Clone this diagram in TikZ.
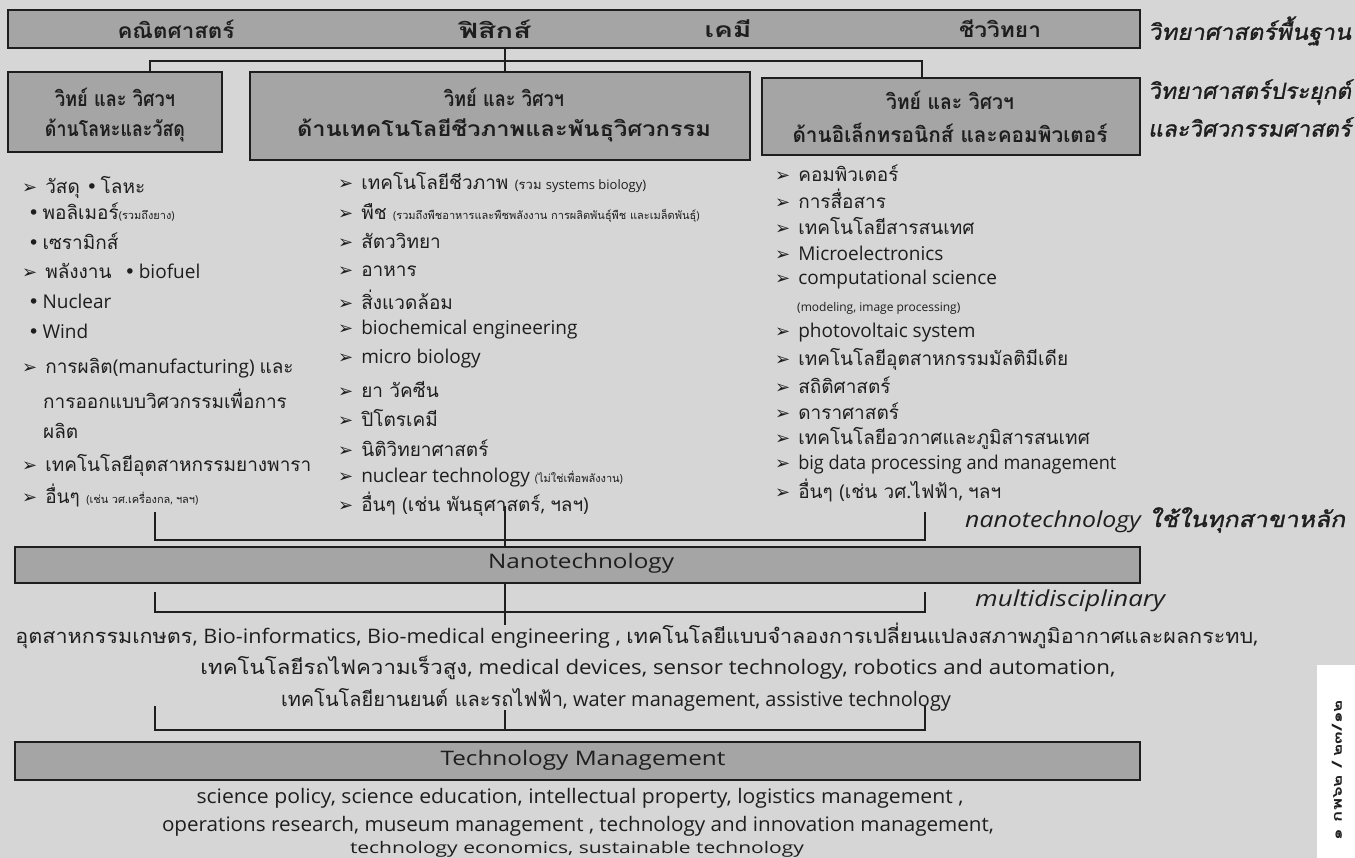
\documentclass[tikz,border=0pt]{standalone}
\usepackage{fontspec}
\usepackage{graphicx}
\setmainfont{Loma}[Script=Thai]
\newfontfamily\thfont{Loma}[Script=Thai]
\newfontfamily\lafont{Open Sans}
\newfontfamily\dv{DejaVu Sans}
\newfontfamily\slfont{Loma}[Script=Thai,FakeSlant=0.18,FakeBold=1.2]
\XeTeXinterchartokenstate=1
\newXeTeXintercharclass\ThaiCls
\newXeTeXintercharclass\SymCls
\newcount\chcnt
\chcnt="0E00
\loop \XeTeXcharclass\chcnt=\ThaiCls \ifnum\chcnt<"0E7F \advance\chcnt by 1 \repeat
\XeTeXcharclass"27A2=\SymCls
\XeTeXcharclass"2022=\SymCls
\XeTeXinterchartoks 0 \ThaiCls = {\thfont}
\XeTeXinterchartoks 4095 \ThaiCls = {\thfont}
\XeTeXinterchartoks \SymCls \ThaiCls = {\thfont}
\XeTeXinterchartoks \ThaiCls 0 = {\lafont}
\XeTeXinterchartoks 4095 0 = {\lafont}
\XeTeXinterchartoks \SymCls 0 = {\lafont}
\newlength\fitlen
\newcommand\fitw[2]{\settowidth\fitlen{#2}\pgfmathsetmacro\myratio{#1/\fitlen}\scalebox{\myratio}[1]{#2}}
\newcommand\arr{{\dv\fontsize{18}{18}\selectfont ➢}\hspace{8pt}}
\newcommand\bul{{\dv •}\,}
\newcommand\sm[1]{{\fontsize{11}{12}\selectfont #1}}
\newcommand\smm[1]{{\fontsize{13}{14}\selectfont #1}}
\definecolor{bgc}{RGB}{214,214,214}
\definecolor{boxc}{RGB}{165,165,165}
\definecolor{ink}{RGB}{30,30,30}
\tikzset{
 gbox/.style={draw=ink, line width=2pt, fill=boxc, inner sep=0pt},
 conn/.style={draw=ink, line width=2.2pt},
 item/.style={anchor=west, inner sep=0pt, text=ink, font=\fontsize{19}{21}\selectfont},
 ttl/.style={inner sep=0pt, text=ink, font=\bfseries\fontsize{21}{23}\selectfont},
 line/.style={inner sep=0pt, text=ink, font=\fontsize{20}{22}\selectfont},
 side/.style={anchor=west, inner sep=0pt, text=ink, font={\XeTeXinterchartokenstate=0 \slfont\fontsize{22}{24}\selectfont}},
}
\begin{document}
\begin{tikzpicture}[x=1pt,y=-1pt]
\useasboundingbox (0,0) rectangle (1355,858);
\clip (0,0) rectangle (1355,858);
\fill[bgc] (0,0) rectangle (1355,858);
\fill[white] (1317,665) rectangle (1355,858);
% top bar
\node[gbox, minimum width=1132pt, minimum height=38pt] (top) at (574,29) {};
\node[ttl] (t1) at (176,29) {\fitw{117}{คณิตศาสตร์}};
\node[ttl] (t2) at (495,29) {\fitw{72}{ฟิสิกส์}};
\node[ttl] (t3) at (728,29) {\fitw{47}{เคมี}};
\node[ttl] (t4) at (1000,29) {\fitw{82}{ชีววิทยา}};
\node[side] (s1) at (1148,31) {\fitw{203}{วิทยาศาสตร์พื้นฐาน}};
\node[side] (s2) at (1148,92) {\fitw{203}{วิทยาศาสตร์ประยุกต์}};
\node[side] (s3) at (1148,127) {\fitw{203}{และวิศวกรรมศาสตร์}};
% second row boxes
\node[gbox, minimum width=214pt, minimum height=80pt] (lbox) at (115,112) {};
\node[gbox, minimum width=500pt, minimum height=88pt] (mbox) at (500,116) {};
\node[gbox, minimum width=378pt, minimum height=77pt] (rbox) at (951,116.5) {};
\node[ttl] (lb1) at (115,97) {\fitw{120}{วิทย์ และ วิศวฯ}};
\node[ttl] (lb2) at (115,130) {\fitw{140}{ด้านโลหะและวัสดุ}};
\node[ttl] (mb1) at (504,97) {\fitw{120}{วิทย์ และ วิศวฯ}};
\node[ttl] (mb2) at (504,130) {\fitw{414}{ด้านเทคโนโลยีชีวภาพและพันธุวิศวกรรม}};
\node[ttl] (rb1) at (950,100) {\fitw{128}{วิทย์ และ วิศวฯ}};
\node[ttl] (rb2) at (950,133) {\fitw{315}{ด้านอิเล็กทรอนิกส์ และคอมพิวเตอร์}};
% connectors top
\coordinate (cl) at (150,61);
\coordinate (cm) at (505,61);
\coordinate (cr) at (922,61);
\draw[conn] (cl |- lbox.north) -- (cl) -- (cr) -- (cr |- rbox.north);
\draw[conn] (cm |- top.south) -- (cm |- mbox.north);
% left list
\node[item] (l1) at (22,187) {\arr วัสดุ \bul โลหะ};
\node[item] (l2) at (28,212) {\bul พอลิเมอร์\sm{(รวมถึงยาง)}};
\node[item] (l3) at (28,241) {\bul เซรามิกส์};
\node[item] (l4) at (22,271) {\arr พลังงาน \ \bul biofuel};
\node[item] (l5) at (28,301) {\bul Nuclear};
\node[item] (l6) at (28,331) {\bul Wind};
\node[item] (l7) at (22,368) {\arr การผลิต(manufacturing) และ};
\node[item] (l8) at (43,399) {การออกแบบวิศวกรรมเพื่อการ};
\node[item] (l9) at (43,431) {ผลิต};
\node[item] (l10) at (22,465) {\arr เทคโนโลยีอุตสาหกรรมยางพารา};
\node[item] (l11) at (22,495) {\arr อื่นๆ \sm{(เช่น วศ.เครื่องกล, ฯลฯ)}};
% middle list
\node[item] (m1) at (338,183) {\arr เทคโนโลยีชีวภาพ \smm{(รวม systems biology)}};
\node[item] (m2) at (338,213) {\arr พืช \sm{(รวมถึงพืชอาหารและพืชพลังงาน การผลิตพันธุ์พืช และเมล็ดพันธุ์)}};
\node[item] (m3) at (338,241) {\arr สัตววิทยา};
\node[item] (m4) at (338,271) {\arr อาหาร};
\node[item] (m5) at (338,300) {\arr สิ่งแวดล้อม};
\node[item] (m6) at (338,330) {\arr biochemical engineering};
\node[item] (m7) at (338,359) {\arr micro biology};
\node[item] (m8) at (338,389) {\arr ยา วัคซีน};
\node[item] (m9) at (338,418) {\arr ปิโตรเคมี};
\node[item] (m10) at (338,448) {\arr นิติวิทยาศาสตร์};
\node[item] (m11) at (338,478) {\arr nuclear technology \sm{(ไม่ใช่เพื่อพลังงาน)}};
\node[item] (m12) at (338,504) {\arr อื่นๆ (เช่น พันธุศาสตร์, ฯลฯ)};
% right list
\node[item] (r1) at (775,173) {\arr คอมพิวเตอร์};
\node[item] (r2) at (775,199) {\arr การสื่อสาร};
\node[item] (r3) at (775,226) {\arr เทคโนโลยีสารสนเทศ};
\node[item] (r4) at (775,253) {\arr Microelectronics};
\node[item] (r5) at (775,280) {\arr computational science};
\node[item, font=\fontsize{12}{13}\selectfont] (r6) at (797,308) {(modeling, image processing)};
\node[item] (r7) at (775,333) {\arr photovoltaic system};
\node[item] (r8) at (775,359) {\arr เทคโนโลยีอุตสาหกรรมมัลติมีเดีย};
\node[item] (r9) at (775,385) {\arr สถิติศาสตร์};
\node[item] (r10) at (775,411) {\arr ดาราศาสตร์};
\node[item] (r11) at (775,438) {\arr เทคโนโลยีอวกาศและภูมิสารสนเทศ};
\node[item] (r12) at (775,465) {\arr \fitw{318}{big data processing and management}};
\node[item] (r13) at (775,490) {\arr อื่นๆ (เช่น วศ.ไฟฟ้า, ฯลฯ};
% nanotechnology
\node[gbox, minimum width=1125pt, minimum height=36pt] (nano) at (577.5,565) {};
\node[line] (nanot) at (581,563) {\fitw{186}{Nanotechnology}};
\node[side] (s4) at (965,520) {\fitw{380}{{\lafont\itshape nanotechnology} ใช้ในทุกสาขาหลัก}};
\node[side] (s5) at (975,601) {\fitw{190}{\lafont\itshape multidisciplinary}};
\coordinate (b1l) at (155,512);
\coordinate (b1r) at (925,512);
\coordinate (b1y) at (505,540);
\coordinate (b1m) at (505,506);
\draw[conn] (b1l) -- (b1l |- b1y) -- (b1r |- b1y) -- (b1r);
\draw[conn] (b1m) -- (b1m |- nano.north);
\coordinate (b2l) at (155,592);
\coordinate (b2r) at (925,592);
\coordinate (b2y) at (505,612);
\coordinate (b2m) at (505,625);
\draw[conn] (b2l) -- (b2l |- b2y) -- (b2r |- b2y) -- (b2r);
\draw[conn] (b2m |- nano.south) -- (b2m);
% multidisciplinary lines
\node[line] (d1) at (637,636) {\fitw{1243}{อุตสาหกรรมเกษตร, Bio-informatics, Bio-medical engineering , เทคโนโลยีแบบจำลองการเปลี่ยนแปลงสภาพภูมิอากาศและผลกระทบ,}};
\node[line] (d2) at (658,668) {\fitw{915}{เทคโนโลยีรถไฟความเร็วสูง, medical devices, sensor technology, robotics and automation,}};
\node[line] (d3) at (616,700) {\fitw{670}{เทคโนโลยียานยนต์ และรถไฟฟ้า, water management, assistive technology}};
\coordinate (b3l) at (155,706);
\coordinate (b3r) at (925,706);
\coordinate (b3y) at (505,730);
\coordinate (b3m) at (505,710);
\draw[conn] (b3l) -- (b3l |- b3y) -- (b3r |- b3y) -- (b3r);
\draw[conn] (b3m) -- (b3y);
% technology management
\node[gbox, minimum width=1125pt, minimum height=38pt] (tm) at (577.5,761) {};
\node[line] (tmt) at (583,760) {\fitw{285}{Technology Management}};
\node[line] (e1) at (580,798) {\fitw{767}{science policy, science education, intellectual property, logistics management ,}};
\node[line] (e2) at (578,826) {\fitw{832}{operations research, museum management , technology and innovation management,}};
\node[line, font=\fontsize{16}{17}\selectfont] (e3) at (577,849) {\fitw{454}{technology economics, sustainable technology}};
\node[inner sep=0pt, rotate=90, text=ink, font=\bfseries\fontsize{14}{14}\selectfont] (pg) at (1337,770) {\fitw{140}{๑ กพ๖๒ / ๒๓/๑๒}};
\end{tikzpicture}
\end{document}
